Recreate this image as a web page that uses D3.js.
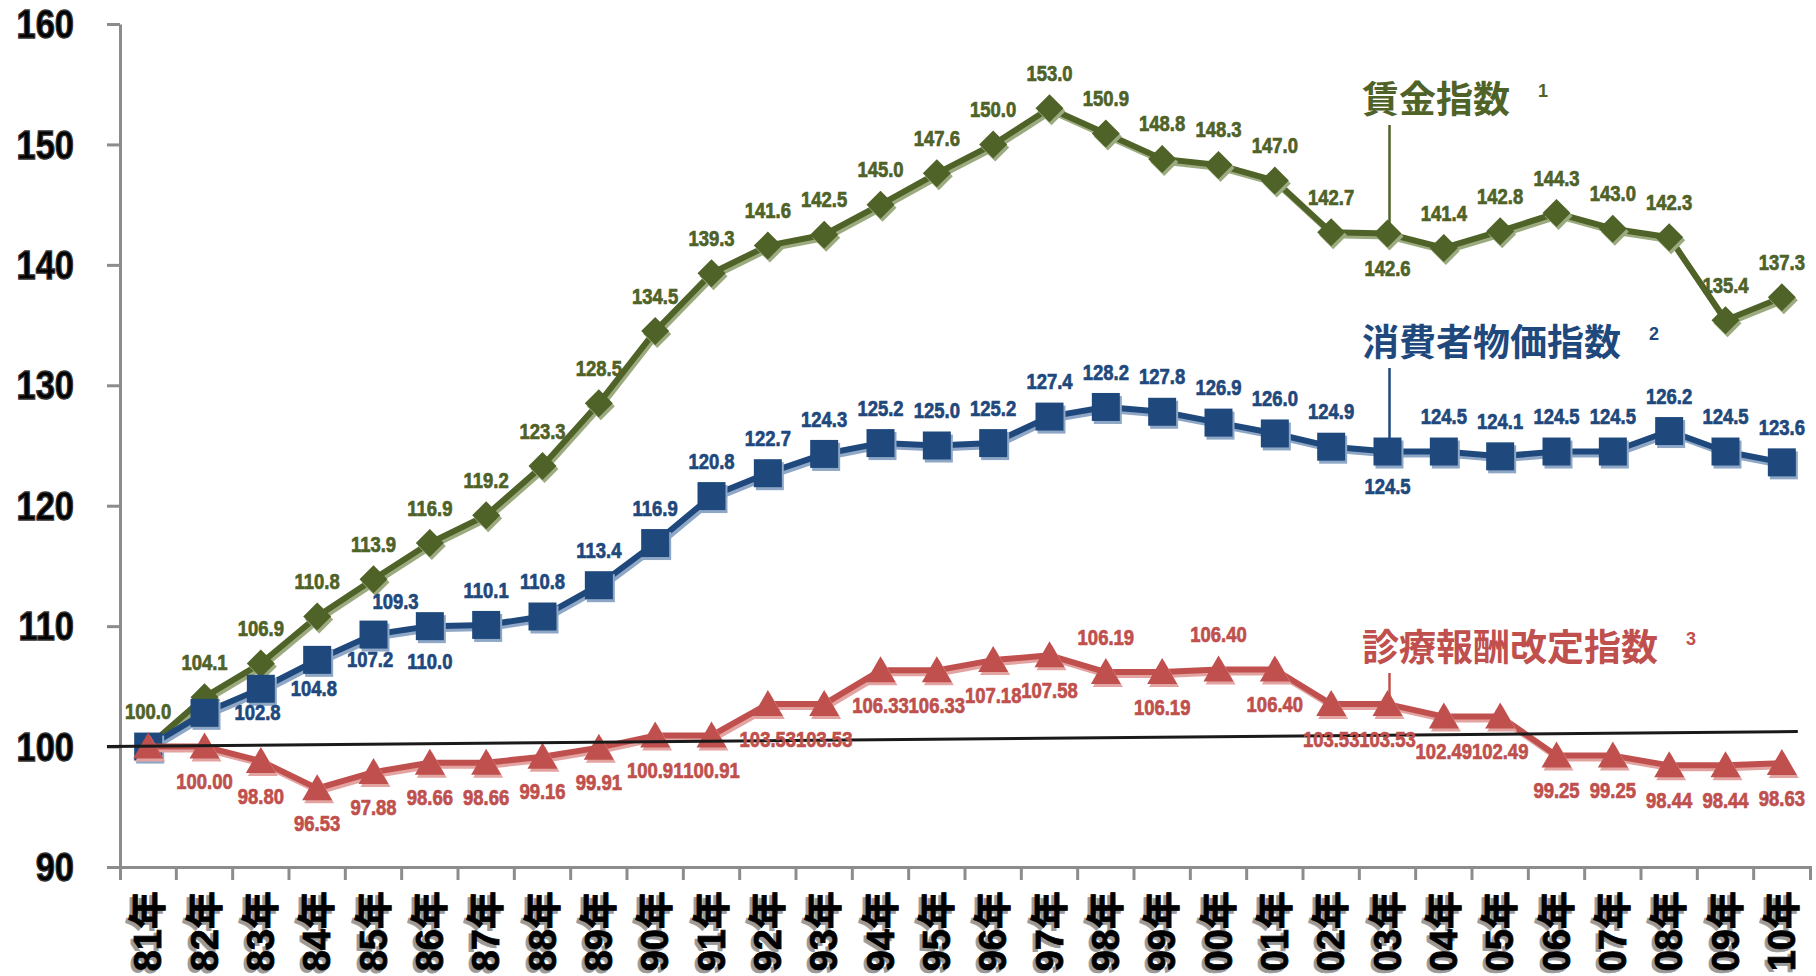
<!DOCTYPE html>
<html>
<head>
<meta charset="utf-8">
<script src="https://cdn.jsdelivr.net/npm/d3@7"></script>
<style>
  body { margin: 0; background: #fff; }
  svg { display: block; }
  .num { font-family: "Liberation Sans", "Noto Sans CJK JP", sans-serif; font-weight: bold; }
  .cjk { font-family: "Noto Sans CJK JP", sans-serif; font-weight: bold; }
</style>
</head>
<body>
<div id="chart"></div>
<script>
// categories
var years = ["81年", "82年", "83年", "84年", "85年", "86年", "87年", "88年", "89年", "90年",
  "91年", "92年", "93年", "94年", "95年", "96年", "97年", "98年", "99年", "00年",
  "01年", "02年", "03年", "04年", "05年", "06年", "07年", "08年", "09年", "10年"];

// 賃金指数
var wageIndex = [100.0, 104.1, 106.9, 110.8, 113.9, 116.9, 119.2, 123.3, 128.5, 134.5,
  139.3, 141.6, 142.5, 145.0, 147.6, 150.0, 153.0, 150.9, 148.8, 148.3,
  147.0, 142.7, 142.6, 141.4, 142.8, 144.3, 143.0, 142.3, 135.4, 137.3];

// 消費者物価指数
var cpiIndex = [100.0, 102.8, 104.8, 107.2, 109.3, 110.0, 110.1, 110.8, 113.4, 116.9,
  120.8, 122.7, 124.3, 125.2, 125.0, 125.2, 127.4, 128.2, 127.8, 126.9,
  126.0, 124.9, 124.5, 124.5, 124.1, 124.5, 124.5, 126.2, 124.5, 123.6];

// 診療報酬改定指数
var feeIndex = [100.00, 100.00, 98.80, 96.53, 97.88, 98.66, 98.66, 99.16, 99.91, 100.91,
  100.91, 103.53, 103.53, 106.33, 106.33, 107.18, 107.58, 106.19, 106.19, 106.40,
  106.40, 103.53, 103.53, 102.49, 102.49, 99.25, 99.25, 98.44, 98.44, 98.63];

// where each value label sits: a = above, b = below, r = right, ar = above-right, "" = none
var wageLabelPos = ["a", "a", "a", "a", "a", "a", "a", "a", "a", "a",
  "a", "a", "a", "a", "a", "a", "a", "a", "a", "a",
  "a", "a", "b", "a", "a", "a", "a", "a", "a", "a"];
var cpiLabelPos = ["", "r", "r", "r", "ar", "b", "a", "a", "a", "a",
  "a", "a", "a", "a", "a", "a", "a", "a", "a", "a",
  "a", "a", "b", "a", "a", "a", "a", "a", "a", "a"];
var feeLabelPos = ["", "b", "b", "b", "b", "b", "b", "b", "b", "b",
  "b", "b", "b", "b", "b", "b", "b", "a", "b", "a",
  "b", "b", "b", "b", "b", "b", "b", "b", "b", "b"];

var yTicks = [90, 100, 110, 120, 130, 140, 150, 160];
var refLine = [100, 101.25];

var seriesNames = ["賃金指数", "消費者物価指数", "診療報酬改定指数"];
var seriesNotes = ["1", "2", "3"];

var svgWidth = 1816;
var svgHeight = 976;

var svg = d3.select("#chart")
  .append("svg")
  .attr("width", svgWidth)
  .attr("height", svgHeight);

var xScale = d3.scaleBand()
  .domain(years)
  .range([120, 1810]);

var yScale = d3.scaleLinear()
  .domain([90, 160])
  .range([867, 24]);

var axisColor = "#8c8c8c";
var squeeze = 0.84; // the numbers are set in a condensed face

// y axis
var yAxis = svg.append("g")
  .attr("transform", "translate(120,0)")
  .call(d3.axisLeft(yScale).tickValues(yTicks).tickSize(13).tickSizeOuter(0).tickFormat(""));
yAxis.select(".domain").attr("stroke", axisColor).attr("stroke-width", 3);
yAxis.selectAll(".tick line").attr("stroke", axisColor).attr("stroke-width", 3);

svg.append("g").selectAll("text")
  .data(yTicks)
  .enter()
  .append("text")
  .attr("class", "num")
  .attr("font-size", 41)
  .attr("fill", "#000")
  .attr("stroke", "#333")
  .attr("stroke-width", 1.4)
  .attr("text-anchor", "end")
  .attr("dominant-baseline", "central")
  .attr("transform", d => `translate(74,${yScale(d)}) scale(${squeeze},1)`)
  .text(d => d);

// x axis (ticks on the band edges)
var xAxis = svg.append("g")
  .attr("transform", "translate(0,867)")
  .call(d3.axisBottom(xScale).tickSize(0).tickSizeOuter(13).tickFormat(""));
xAxis.select(".domain").attr("stroke", axisColor).attr("stroke-width", 3).attr("fill", "none");

xAxis.selectAll(".edge")
  .data(years.slice(1))
  .enter()
  .append("line")
  .attr("class", "edge")
  .attr("x1", d => xScale(d))
  .attr("x2", d => xScale(d))
  .attr("y1", 0)
  .attr("y2", 13)
  .attr("stroke", axisColor)
  .attr("stroke-width", 3);

var cx = d => xScale(d) + xScale.bandwidth() / 2;

// rotated category labels with their grey shadow
[["#9a9a9a", -3, 3], ["#000", 0, 0]].forEach(function(s) {
  svg.append("g").selectAll("text")
    .data(years)
    .enter()
    .append("text")
    .attr("class", "num")
    .attr("font-size", 38)
    .attr("fill", s[0])
    .attr("stroke", s[0])
    .attr("stroke-width", 0.8)
    .attr("text-anchor", "end")
    .attr("dominant-baseline", "central")
    .attr("transform", d => `translate(${cx(d) + s[1]},${891 + s[2]}) rotate(-90)`)
    .text(d => d);
});

// series
var series = [
  { values: wageIndex, pos: wageLabelPos, color: "#4f6228", shadow: "#9cab7f", fmt: d3.format(".1f"), marker: "diamond" },
  { values: cpiIndex, pos: cpiLabelPos, color: "#1f497d", shadow: "#8ea7c6", fmt: d3.format(".1f"), marker: "square" },
  { values: feeIndex, pos: feeLabelPos, color: "#c0504d", shadow: "#e3a3a1", fmt: d3.format(".2f"), marker: "triangle" }
];

var markerPath = {
  diamond: "M0,-14L14,0L0,14L-14,0Z",
  square: "M-14,-14H14V14H-14Z",
  triangle: "M0,-14L15,12L-15,12Z"
};

var line = d3.line()
  .x((d, i) => cx(years[i]))
  .y(d => yScale(d));

var seriesGroup = svg.append("g");

series.forEach(function(s) {
  var g = seriesGroup.append("g");
  g.append("path")
    .datum(s.values)
    .attr("d", line)
    .attr("fill", "none")
    .attr("stroke", s.shadow)
    .attr("stroke-width", 6)
    .attr("stroke-linejoin", "round")
    .attr("transform", "translate(2,3)");
  g.append("path")
    .datum(s.values)
    .attr("d", line)
    .attr("fill", "none")
    .attr("stroke", s.color)
    .attr("stroke-width", 6)
    .attr("stroke-linejoin", "round");
  g.selectAll(".shadow")
    .data(s.values)
    .enter()
    .append("path")
    .attr("class", "shadow")
    .attr("d", markerPath[s.marker])
    .attr("fill", s.shadow)
    .attr("transform", (d, i) => `translate(${cx(years[i]) + 2},${yScale(d) + 3})`);
  g.selectAll(".marker")
    .data(s.values)
    .enter()
    .append("path")
    .attr("class", "marker")
    .attr("d", markerPath[s.marker])
    .attr("fill", s.color)
    .attr("transform", (d, i) => `translate(${cx(years[i])},${yScale(d)})`);
});

// reference line at 100
svg.append("line")
  .attr("x1", xScale.range()[0] - 13)
  .attr("x2", cx(years[years.length - 1]) + 16)
  .attr("y1", yScale(refLine[0]))
  .attr("y2", yScale(refLine[1]))
  .attr("stroke", "#1a1a1a")
  .attr("stroke-width", 3);

// value labels
var offsets = { a: [0, -35], b: [0, 35], r: [53, 0], ar: [22, -33] };
series.forEach(function(s) {
  svg.append("g").selectAll("text")
    .data(s.values.map((v, i) => ({ v: v, i: i, p: s.pos[i] })).filter(d => d.p !== ""))
    .enter()
    .append("text")
    .attr("class", "num")
    .attr("font-size", 22)
    .attr("fill", s.color)
    .attr("stroke", s.color)
    .attr("stroke-width", 0.7)
    .attr("text-anchor", "middle")
    .attr("dominant-baseline", "central")
    .attr("transform", d => `translate(${cx(years[d.i]) + offsets[d.p][0]},${yScale(d.v) + offsets[d.p][1]}) scale(${squeeze},1)`)
    .text(d => s.fmt(d.v));
});

// series names with leader lines to the 03年 point
var noteY = [97, 340, 645];
var leadIdx = years.indexOf("03年");
series.forEach(function(s, k) {
  var name = seriesNames[k];
  svg.append("text")
    .attr("class", "cjk")
    .attr("font-size", 37)
    .attr("fill", s.color)
    .attr("x", 1362)
    .attr("y", noteY[k])
    .attr("dominant-baseline", "central")
    .text(name);
  svg.append("text")
    .attr("class", "num")
    .attr("font-size", 18)
    .attr("fill", s.color)
    .attr("x", 1362 + name.length * 37 + 28)
    .attr("y", noteY[k] - 6)
    .attr("dominant-baseline", "central")
    .text(seriesNotes[k]);
  svg.append("line")
    .attr("x1", cx(years[leadIdx]) + 2)
    .attr("x2", cx(years[leadIdx]) + 2)
    .attr("y1", noteY[k] + 28)
    .attr("y2", yScale(s.values[leadIdx]))
    .attr("stroke", s.color)
    .attr("stroke-width", 2.5);
});
</script>
</body>
</html>
